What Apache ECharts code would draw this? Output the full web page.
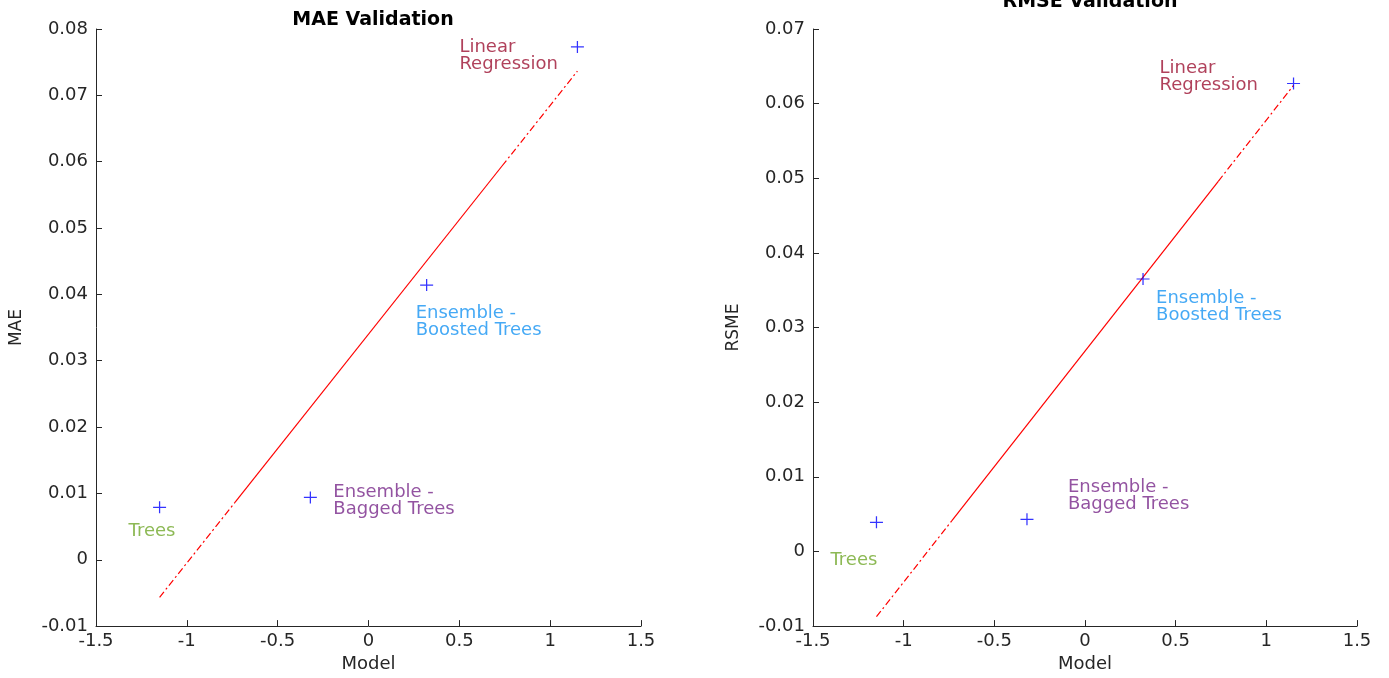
<!DOCTYPE html>
<html>
<head>
<meta charset="utf-8">
<script src="https://cdn.jsdelivr.net/npm/echarts@6/dist/echarts.min.js"></script>
<style>
  html, body { margin: 0; padding: 0; background: #fff; }
  #chart { width: 1389px; height: 678px; }
</style>
</head>
<body>
<div id="chart"></div>
<script>
// Model names and their label colours
const models = ['Trees', 'Ensemble -\nBagged Trees', 'Ensemble -\nBoosted Trees', 'Linear\nRegression'];
const modelColors = ['#70A82A', '#782889', '#1794F2', '#9C1232'];

// Normal quantile position of each model on the "Model" axis
const modelQuantiles = [-1.15, -0.32, 0.32, 1.15];

// Validation errors
const maeValues = [0.0079, 0.0094, 0.0414, 0.0773];
const rmseValues = [0.0039, 0.0043, 0.0365, 0.0627];

// Axis ticks
const xTicks = [-1.5, -1, -0.5, 0, 0.5, 1, 1.5];
const maeTicks = [-0.01, 0, 0.01, 0.02, 0.03, 0.04, 0.05, 0.06, 0.07, 0.08];
const rmseTicks = [-0.01, 0, 0.01, 0.02, 0.03, 0.04, 0.05, 0.06, 0.07];

// Label offsets (pixels from the marker centre) for each panel
const maeLabelOffsets = [[-31, 15], [23, -14], [-11, 20], [-118, -8]];
const rmseLabelOffsets = [[-46, 29], [41, -41], [13, 11], [-134, -24]];

const FONT = 'DejaVu Sans';
const AXIS_COLOR = '#262626';
const TEXT_SIZE = 18;

// Percentile with the (i - 0.5) / n plotting positions
function percentile(values, p) {
  const s = values.slice().sort((a, b) => a - b);
  const n = s.length;
  const pos = p * n - 0.5;
  if (pos <= 0) return s[0];
  if (pos >= n - 1) return s[n - 1];
  const lo = Math.floor(pos);
  return s[lo] + (pos - lo) * (s[lo + 1] - s[lo]);
}

// Quartile reference line of a Q-Q plot: solid between the quartiles,
// dash-dot out to the extreme quantiles
function qqLine(xs, ys) {
  const x1 = percentile(xs, 0.25), x3 = percentile(xs, 0.75);
  const y1 = percentile(ys, 0.25), y3 = percentile(ys, 0.75);
  const slope = (y3 - y1) / (x3 - x1);
  const xmin = Math.min(...xs), xmax = Math.max(...xs);
  const f = x => y1 + slope * (x - x1);
  return {
    solid: [[x1, y1], [x3, y3]],
    low: [[xmin, f(xmin)], [x1, y1]],
    high: [[x3, y3], [xmax, f(xmax)]]
  };
}

const plus = 'path://M0,6L12,6M6,0L6,12';

function panelSeries(idx, values, offsets) {
  const ln = qqLine(modelQuantiles, values);
  const lineBase = {
    type: 'line', xAxisIndex: idx, yAxisIndex: idx, symbol: 'none',
    silent: true, animation: false, z: 2
  };
  const points = values.map((v, i) => ({
    value: [modelQuantiles[i], v],
    label: {
      show: true,
      formatter: models[i],
      position: 'inside',
      offset: offsets[i],
      align: 'left',
      verticalAlign: 'top',
      color: modelColors[i],
      fontFamily: FONT,
      fontSize: TEXT_SIZE,
      lineHeight: 17
    }
  }));
  return [
    Object.assign({}, lineBase, { data: ln.solid, lineStyle: { color: '#FF0000', width: 1.2, type: 'solid' } }),
    Object.assign({}, lineBase, { data: ln.low, lineStyle: { color: '#FF0000', width: 1.2, type: [7, 3, 2, 3] } }),
    Object.assign({}, lineBase, { data: ln.high, lineStyle: { color: '#FF0000', width: 1.2, type: [7, 3, 2, 3] } }),
    {
      type: 'scatter', xAxisIndex: idx, yAxisIndex: idx,
      symbol: plus, symbolSize: [13, 12], z: 3, animation: false,
      itemStyle: { color: 'none', borderColor: '#0000FF', borderWidth: 1.2 },
      data: points
    }
  ];
}

function xAxis(gridIndex) {
  return {
    type: 'value', gridIndex,
    min: xTicks[0], max: xTicks[xTicks.length - 1], interval: 0.5,
    name: 'Model', nameLocation: 'middle', nameGap: 25,
    nameTextStyle: { color: AXIS_COLOR, fontFamily: FONT, fontSize: TEXT_SIZE },
    axisLine: { show: true, onZero: false, lineStyle: { color: AXIS_COLOR, width: 1 } },
    axisTick: { show: true, inside: true, length: 6, lineStyle: { color: AXIS_COLOR } },
    axisLabel: { color: AXIS_COLOR, fontFamily: FONT, fontSize: TEXT_SIZE, margin: 6 },
    splitLine: { show: false }
  };
}

function yAxis(gridIndex, ticks, name) {
  return {
    type: 'value', gridIndex,
    min: ticks[0], max: ticks[ticks.length - 1], interval: 0.01,
    name, nameLocation: 'middle', nameGap: 71,
    nameTextStyle: { color: AXIS_COLOR, fontFamily: FONT, fontSize: 17 },
    axisLine: { show: true, onZero: false, lineStyle: { color: AXIS_COLOR, width: 1 } },
    axisTick: { show: true, inside: true, length: 6, lineStyle: { color: AXIS_COLOR } },
    axisLabel: { color: AXIS_COLOR, fontFamily: FONT, fontSize: TEXT_SIZE, margin: 8 },
    splitLine: { show: false }
  };
}

const chart = echarts.init(document.getElementById('chart'), null, { renderer: 'canvas' });
chart.setOption({
  backgroundColor: '#ffffff',
  animation: false,
  title: [
    { text: 'MAE Validation', left: 368, top: 6, textAlign: 'center',
      textStyle: { fontFamily: FONT, fontSize: 19, fontWeight: 'bold', color: '#000' } },
    { text: 'RMSE Validation', left: 1085, top: -12, textAlign: 'center',
      textStyle: { fontFamily: FONT, fontSize: 19, fontWeight: 'bold', color: '#000' } }
  ],
  grid: [
    { left: 96, top: 29, width: 545, height: 599 },
    { left: 813, top: 29, width: 544, height: 599 }
  ],
  xAxis: [xAxis(0), xAxis(1)],
  yAxis: [yAxis(0, maeTicks, 'MAE'), yAxis(1, rmseTicks, 'RSME')],
  series: [
    ...panelSeries(0, maeValues, maeLabelOffsets),
    ...panelSeries(1, rmseValues, rmseLabelOffsets)
  ]
});
</script>
</body>
</html>
